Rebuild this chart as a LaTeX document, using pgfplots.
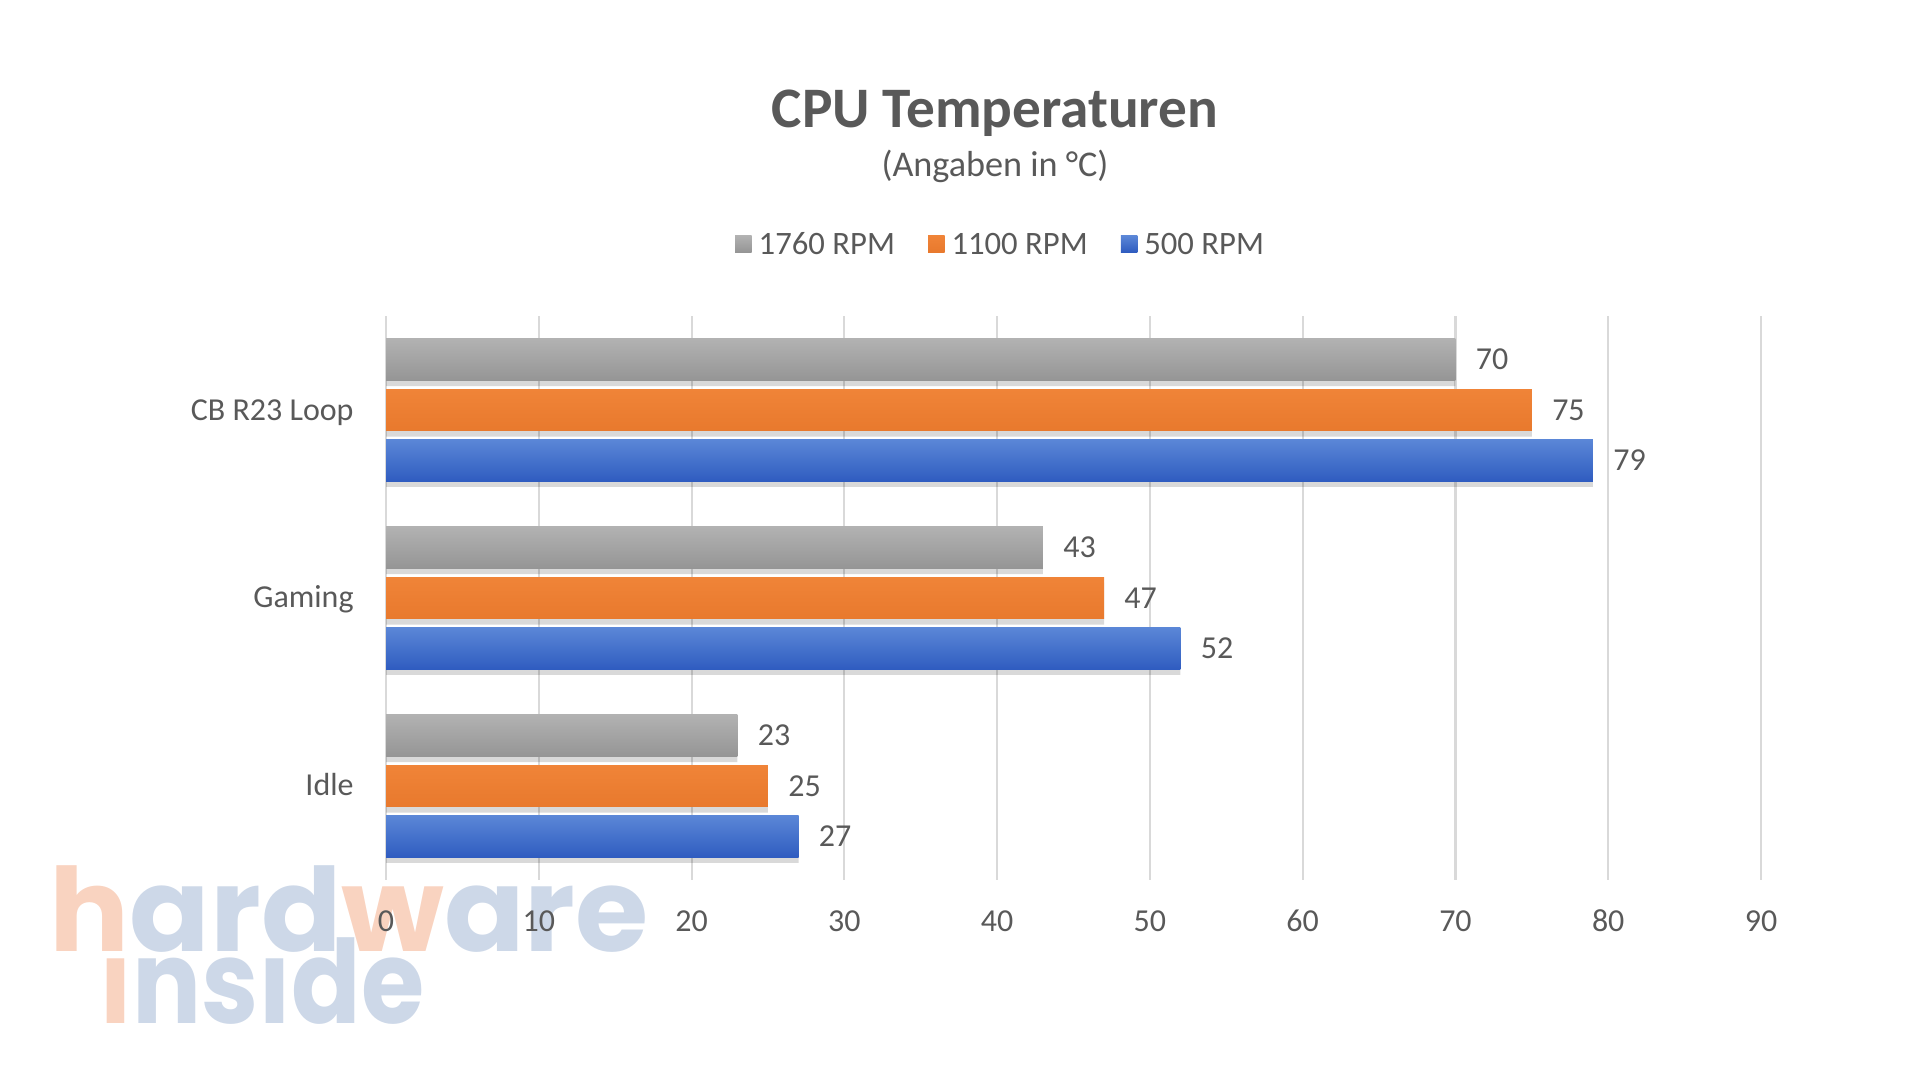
\documentclass[border=0pt]{standalone}
\usepackage{fontspec}
\setmainfont{Carlito}
\newfontfamily\wmfont{Poppins}
\usepackage{pgfplots}
\pgfplotsset{compat=1.18}
\definecolor{txt}{HTML}{595959}
\definecolor{gridc}{HTML}{D9D9D9}
\definecolor{gtop}{HTML}{B2B2B2}
\definecolor{gbot}{HTML}{959595}
\definecolor{otop}{HTML}{F08438}
\definecolor{obot}{HTML}{E8792D}
\definecolor{btop}{HTML}{5B87D7}
\definecolor{bbot}{HTML}{2F5CC0}
\definecolor{wmor}{HTML}{F9D3C0}
\definecolor{wmbl}{HTML}{CDD8E8}
\pgfplotstableread{
y g o b
0 23 25 27
1 43 47 52
2 70 75 79
}\temps
\pgfplotsset{
  gbar/.style={bar shift=0.268, top color=gtop, bottom color=gbot, draw=none, nodes near coords},
  obar/.style={bar shift=0, top color=otop, bottom color=obot, draw=none, nodes near coords},
  bbar/.style={bar shift=-0.268, top color=btop, bottom color=bbot, draw=none, nodes near coords},
}
\begin{document}
\begin{tikzpicture}
\path[use as bounding box] (0,0) rectangle (19.2,10.8);
% watermark
\node[anchor=base west, inner sep=0, font=\wmfont\bfseries\fontsize{33}{33}\selectfont] at (0.49,1.28)
  {\scalebox{1.023}[1]{\textcolor{wmor}{h}\textcolor{wmbl}{ard}\textcolor{wmor}{w}\textcolor{wmbl}{are}}};
\node[anchor=base west, inner sep=0, font=\wmfont\bfseries\fontsize{33}{33}\selectfont] at (0.99,0.56)
  {\scalebox{0.884}[1]{\textcolor{wmor}{ı}\textcolor{wmbl}{nsıde}}};
% titles
\node[anchor=base, text=txt, font=\bfseries\fontsize{16.3}{19}\selectfont] at (9.95,9.52) {CPU Temperaturen};
\node[anchor=base, text=txt, font=\fontsize{10.3}{12}\selectfont] at (9.95,9.03) {(Angaben in °C)};
\begin{axis}[
  at={(3.86cm,2.0cm)}, anchor=south west,
  width=13.75cm, height=5.64cm, scale only axis,
  xbar, bar width=0.223,
  xmin=0, xmax=90, ymin=-0.5, ymax=2.5,
  xtick={0,10,...,90},
  ytick={0,1,2}, yticklabels={Idle,Gaming,CB R23 Loop},
  xmajorgrids, grid style={gridc, line width=0.6pt},
  axis line style={draw=none},
  major tick length=0pt,
  tick label style={font=\fontsize{9.1}{11}\selectfont, text=txt},
  /pgf/number format/assume math mode=true,
  x tick label style={anchor=base, yshift=-0.52cm},
  y tick label style={anchor=base east, xshift=-0.2cm, yshift=-0.1cm},
  every node near coord/.append style={anchor=west, xshift=0.8mm, font=\fontsize{9.1}{11}\selectfont, text=txt},
  legend columns=-1,
  legend style={draw=none, fill=none, at={(0.4488,1.124)}, anchor=center,
    font=\fontsize{9.3}{11}\selectfont, text=txt,
    /tikz/every even column/.append style={column sep=0.26cm}},
  legend image code/.code={\fill[#1] (0cm,-0.06cm) rectangle (0.165cm,0.105cm);},
  clip=false,
]
% soft shadows
\addplot[forget plot, bar shift=0.268-0.03, fill=black, fill opacity=0.15, draw=none] table[x=g, y=y] {\temps};
\addplot[forget plot, bar shift=-0.03, fill=black, fill opacity=0.15, draw=none] table[x=o, y=y] {\temps};
\addplot[forget plot, bar shift=-0.268-0.03, fill=black, fill opacity=0.15, draw=none] table[x=b, y=y] {\temps};
% bars, one plot per bar so that each bar gets its own gradient
\addplot[gbar] coordinates {(70,2)};
\addplot[obar] coordinates {(75,2)};
\addplot[bbar] coordinates {(79,2)};
\addplot[gbar, forget plot] coordinates {(43,1)};
\addplot[obar, forget plot] coordinates {(47,1)};
\addplot[bbar, forget plot] coordinates {(52,1)};
\addplot[gbar, forget plot] coordinates {(23,0)};
\addplot[obar, forget plot] coordinates {(25,0)};
\addplot[bbar, forget plot] coordinates {(27,0)};
\legend{1760 RPM,1100 RPM,500 RPM}
\end{axis}
\end{tikzpicture}
\end{document}
